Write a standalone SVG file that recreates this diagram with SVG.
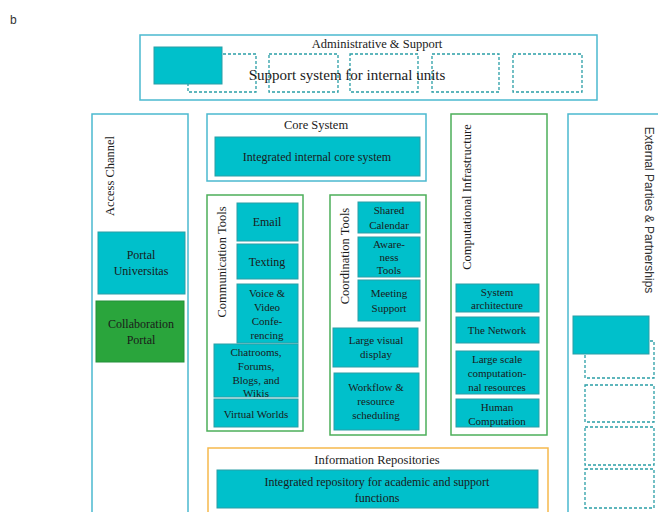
<svg xmlns="http://www.w3.org/2000/svg" width="658" height="512" viewBox="0 0 658 512">
<defs>
<style>
.frame{fill:#ffffff;stroke:#4bb9cf;stroke-width:1.5}
.gframe{fill:#ffffff;stroke:#4caf5a;stroke-width:1.5}
.oframe{fill:#ffffff;stroke:#f6b94c;stroke-width:1.5}
.teal{fill:#00c0cb;stroke:#2a9ea6;stroke-width:1}
.green{fill:#2aa53c;stroke:#23903a;stroke-width:1}
.dash{fill:none;stroke:#2a9ea6;stroke-width:1.3;stroke-dasharray:3 2}
text{font-family:"Liberation Serif","Times New Roman",serif;fill:#1a1a1a;font-size:12px;text-anchor:middle}
.t{font-size:12.5px}
.s{font-size:11px}
.sans{font-family:"Liberation Sans",Arial,sans-serif;font-size:12px;fill:#333}
</style>
</defs>
<rect width="658" height="512" fill="#ffffff"/>
<text x="10" y="24" class="sans" style="text-anchor:start;font-size:12px">b</text>

<g id="admin">
<rect class="frame" x="140" y="35" width="457" height="65"/>
<rect class="dash" x="188" y="54" width="68" height="38"/>
<rect class="dash" x="269" y="54" width="69" height="38"/>
<rect class="dash" x="350" y="54" width="68" height="38"/>
<rect class="dash" x="432" y="54" width="67" height="38"/>
<rect class="dash" x="513" y="54" width="69" height="38"/>
<rect class="teal" x="154" y="47" width="68" height="37"/>
<text x="377" y="48" class="t">Administrative  &amp; Support</text>
<text x="347" y="80" style="font-size:15px">Support system  for internal units</text>
</g>

<g id="access">
<rect class="frame" x="92" y="114" width="96" height="410"/>
<text transform="translate(114,176) rotate(-90)" class="t">Access Channel</text>
<rect class="teal" x="98" y="232" width="87" height="62"/>
<text x="141" y="259">Portal</text>
<text x="141" y="275">Universitas</text>
<rect class="green" x="96" y="301" width="88" height="61"/>
<text x="141" y="328">Collaboration</text>
<text x="141" y="344">Portal</text>
</g>

<g id="core">
<rect class="frame" x="207" y="114" width="219" height="67"/>
<text x="316" y="129" class="t">Core System</text>
<rect class="teal" x="215" y="137" width="205" height="39"/>
<text x="317" y="161">Integrated  internal  core system</text>
</g>

<g id="communication">
<rect class="gframe" x="207" y="195" width="96" height="236"/>
<text transform="translate(226,262) rotate(-90)" class="t">Communication Tools</text>
<rect class="teal" x="237" y="203" width="61" height="38"/>
<text x="267" y="226">Email</text>
<rect class="teal" x="237" y="244" width="61" height="35"/>
<text x="267" y="266">Texting</text>
<rect class="teal" x="237" y="284" width="61" height="59"/>
<text x="267" y="297" class="s">Voice &amp;</text>
<text x="267" y="311" class="s">Video</text>
<text x="267" y="325" class="s">Confe-</text>
<text x="267" y="339" class="s">rencing</text>
<rect class="teal" x="214" y="344" width="84" height="53"/>
<text x="256" y="356" class="s">Chatrooms,</text>
<text x="256" y="370" class="s">Forums,</text>
<text x="256" y="384" class="s">Blogs,  and</text>
<text x="256" y="397" class="s">Wikis</text>
<rect class="teal" x="214" y="399" width="84" height="28"/>
<text x="256" y="418" class="s">Virtual  Worlds</text>
</g>

<g id="coordination">
<rect class="gframe" x="330" y="195" width="96" height="240"/>
<text transform="translate(349,256) rotate(-90)" class="t">Coordination Tools</text>
<rect class="teal" x="358" y="202" width="62" height="31"/>
<text x="389" y="214" class="s">Shared</text>
<text x="389" y="229" class="s">Calendar</text>
<rect class="teal" x="358" y="237" width="62" height="40"/>
<text x="389" y="248" class="s">Aware-</text>
<text x="389" y="261" class="s">ness</text>
<text x="389" y="274" class="s">Tools</text>
<rect class="teal" x="358" y="280" width="62" height="41"/>
<text x="389" y="297" class="s">Meeting</text>
<text x="389" y="312" class="s">Support</text>
<rect class="teal" x="333" y="328" width="85" height="39"/>
<text x="376" y="344" class="s">Large visual</text>
<text x="376" y="358" class="s">display</text>
<rect class="teal" x="334" y="373" width="85" height="57"/>
<text x="376" y="391" class="s">Workflow  &amp;</text>
<text x="376" y="405" class="s">resource</text>
<text x="376" y="419" class="s">scheduling</text>
</g>

<g id="computational">
<rect class="gframe" x="451" y="114" width="96" height="321"/>
<text transform="translate(471,197) rotate(-90)" class="t">Computational Infrastructure</text>
<rect class="teal" x="456" y="284" width="83" height="28"/>
<text x="497" y="296" class="s">System</text>
<text x="497" y="309" class="s">architecture</text>
<rect class="teal" x="456" y="317" width="83" height="26"/>
<text x="497" y="334" class="s">The  Network</text>
<rect class="teal" x="456" y="351" width="83" height="43"/>
<text x="497" y="363" class="s">Large scale</text>
<text x="497" y="377" class="s">computation-</text>
<text x="497" y="391" class="s">nal resources</text>
<rect class="teal" x="456" y="399" width="83" height="28"/>
<text x="497" y="411" class="s">Human</text>
<text x="497" y="425" class="s">Computation</text>
</g>

<g id="external">
<rect class="frame" x="568" y="114" width="100" height="410"/>
<text transform="translate(645,210) rotate(90)" class="sans">External Parties  &amp;  Partnerships</text>
<rect class="dash" x="585" y="341" width="69" height="37"/>
<rect class="dash" x="585" y="385" width="69" height="37"/>
<rect class="dash" x="585" y="427" width="69" height="38"/>
<rect class="dash" x="585" y="469" width="69" height="39"/>
<rect class="teal" x="573" y="316" width="76" height="38"/>
</g>

<g id="repositories">
<rect class="oframe" x="208" y="448" width="340" height="80"/>
<text x="377" y="464" class="t">Information Repositories</text>
<rect class="teal" x="217" y="470" width="321" height="38"/>
<text x="377" y="486">Integrated repository for academic and support</text>
<text x="377" y="502">functions</text>
</g>

<g id="connectors"></g>
</svg>
